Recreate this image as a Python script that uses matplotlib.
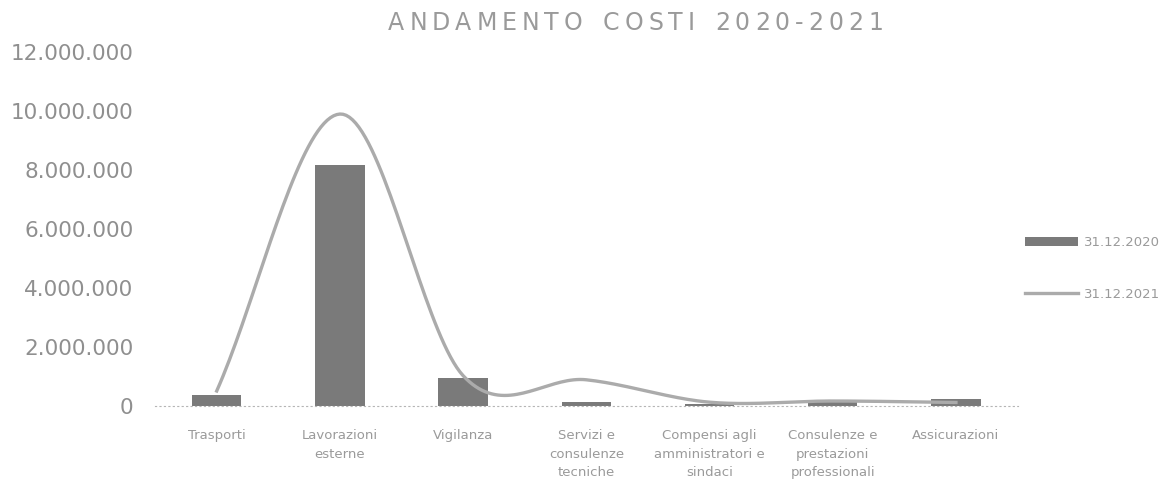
import numpy as np
import matplotlib.pyplot as plt
from matplotlib.ticker import FuncFormatter

categorie = ['Trasporti', 'Lavorazioni\nesterne', 'Vigilanza', 'Servizi e\nconsulenze\ntecniche',
             'Compensi agli\namministratori e\nsindaci', 'Consulenze e\nprestazioni\nprofessionali',
             'Assicurazioni']
costi_2020 = [370000, 8170000, 950000, 110000, 70000, 200000, 220000]
costi_2021 = [500000, 9900000, 1020000, 880000, 120000, 160000, 110000]
y_ticks = [0, 2000000, 4000000, 6000000, 8000000, 10000000, 12000000]
titolo = 'ANDAMENTO COSTI 2020-2021'


def smooth(xs, ys, n=40):
    # catmull-rom con estremi riflessi
    xs = np.asarray(xs, float)
    ys = np.asarray(ys, float)
    px = np.concatenate([[2 * xs[0] - xs[1]], xs, [2 * xs[-1] - xs[-2]]])
    py = np.concatenate([[2 * ys[0] - ys[1]], ys, [2 * ys[-1] - ys[-2]]])
    out_x, out_y = [], []
    for i in range(1, len(px) - 2):
        t = np.linspace(0, 1, n)
        for p, out in ((px, out_x), (py, out_y)):
            p0, p1, p2, p3 = p[i - 1], p[i], p[i + 1], p[i + 2]
            out.extend(0.5 * (2 * p1 + (-p0 + p2) * t + (2 * p0 - 5 * p1 + 4 * p2 - p3) * t ** 2
                              + (-p0 + 3 * p1 - 3 * p2 + p3) * t ** 3))
    return out_x, out_y


fig = plt.figure(figsize=(11.75, 4.83), dpi=100)
ax = fig.add_axes([0.132, 0.16, 0.734, 0.732])

x = np.arange(len(categorie))
ax.bar(x, costi_2020, width=0.4, color='#7a7a7a', label='31.12.2020', zorder=2)
sx, sy = smooth(x, costi_2021)
ax.plot(sx, sy, color='#ababab', linewidth=2.4, label='31.12.2021', zorder=3)

ax.set_xlim(-0.5, len(categorie) - 0.5)
ax.set_ylim(0, 12000000)
ax.set_yticks(y_ticks)
ax.yaxis.set_major_formatter(FuncFormatter(lambda v, p: f'{int(v):,}'.replace(',', '.')))
ax.set_xticks(x)
ax.set_xticklabels(categorie, fontsize=9.5, color='#9a9a9a', linespacing=1.55)
ax.tick_params(axis='y', labelsize=15.5, labelcolor='#8f8f8f', length=0, pad=15.5)
ax.tick_params(axis='x', length=0, pad=17)

for s in ['top', 'right', 'left']:
    ax.spines[s].set_visible(False)
ax.spines['bottom'].set_color('#b5b5b5')
ax.spines['bottom'].set_linestyle((0, (1, 3)))

# titolo con spaziatura tra le lettere
renderer = fig.canvas.get_renderer()
spacing = 5
widths = []
for ch in titolo:
    if ch == ' ':
        widths.append(10)
        continue
    t = fig.text(0, 0, ch, fontsize=17)
    widths.append(t.get_window_extent(renderer).width)
    t.remove()
total = sum(widths) + spacing * (len(titolo) - 1)
xpos = 0.541 * fig.bbox.width - total / 2
for ch, w in zip(titolo, widths):
    fig.text(xpos / fig.bbox.width, 0.952, ch, ha='left', va='center',
             fontsize=17, color='#9a9a9a')
    xpos += w + spacing

handles, labels = ax.get_legend_handles_labels()
fig.legend(handles[::-1], labels[::-1], loc='center left', bbox_to_anchor=(0.862, 0.444),
           frameon=False, fontsize=9.5, labelcolor='#9a9a9a', handlelength=4,
           labelspacing=2.9, handletextpad=0.5)

fig.savefig('out.png', dpi=100)
